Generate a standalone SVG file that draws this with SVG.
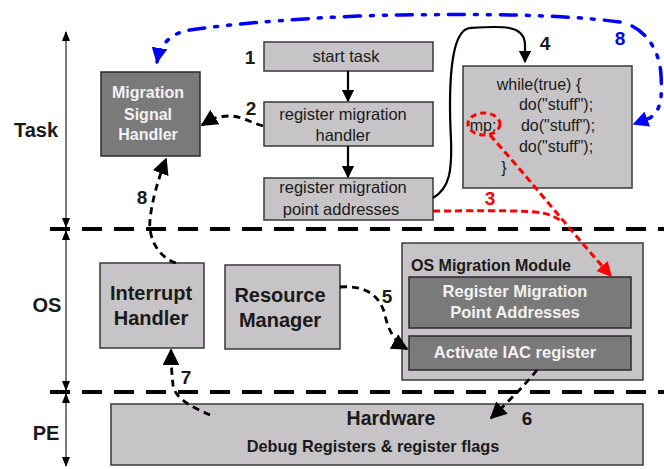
<svg xmlns="http://www.w3.org/2000/svg" width="664" height="469" viewBox="0 0 664 469">
<defs>
<style>
.box{fill:#c6c4c6;stroke:#3a3a3a;stroke-width:1.5}
.dbox{fill:#7b7a7b;stroke:#2a2a2a;stroke-width:1.5}
.t{font-family:"Liberation Sans",Arial,sans-serif;fill:#1a1a1a;text-anchor:middle}
.w{font-family:"Liberation Sans",Arial,sans-serif;fill:#f2f2f2;font-weight:bold;text-anchor:middle}
.b{font-weight:bold}
.sep{stroke:#000;stroke-width:4;stroke-dasharray:20 12;fill:none}
.axis{stroke:#333;stroke-width:1.3;fill:none}
.dk{stroke:#000;stroke-width:2.8;stroke-dasharray:7 5;fill:none}
.sol{stroke:#000;stroke-width:2.2;fill:none}
.red{stroke:#ff0000;stroke-width:3;stroke-dasharray:7 4;fill:none}
.blue{stroke:#0000ff;stroke-width:3.5;stroke-dasharray:16 10 3 10 3 10;stroke-linecap:round;fill:none}
</style>
<marker id="ak" viewBox="0 0 10 10" refX="9" refY="5" markerWidth="5.5" markerHeight="5.5" orient="auto" markerUnits="strokeWidth"><path d="M0,0 L10,5 L0,10 z" fill="#000"/></marker>
<marker id="as" viewBox="0 0 10 10" refX="9" refY="5" markerWidth="6" markerHeight="6" orient="auto" markerUnits="strokeWidth"><path d="M0,0 L10,5 L0,10 z" fill="#000"/></marker>
<marker id="ar" viewBox="0 0 10 10" refX="9" refY="5" markerWidth="5" markerHeight="5" orient="auto" markerUnits="strokeWidth"><path d="M0,0 L10,5 L0,10 z" fill="#ff0000"/></marker>
<marker id="ab" viewBox="0 0 10 10" refX="9" refY="5" markerWidth="4.5" markerHeight="4.5" orient="auto" markerUnits="strokeWidth"><path d="M0,0 L10,5 L0,10 z" fill="#0000ff"/></marker>
<marker id="ax" viewBox="0 0 10 10" refX="9" refY="5" markerWidth="8" markerHeight="8" orient="auto-start-reverse" markerUnits="strokeWidth"><path d="M0,1 L10,5 L0,9 z" fill="#000"/></marker>
</defs>
<rect width="664" height="469" fill="#fff"/>

<g id="layers">
<line class="sep" x1="50" y1="229" x2="664" y2="229"/>
<line class="sep" x1="50" y1="392" x2="664" y2="392"/>
<line class="axis" x1="66" y1="32" x2="66" y2="227" marker-start="url(#ax)" marker-end="url(#ax)"/>
<line class="axis" x1="66" y1="231" x2="66" y2="390" marker-start="url(#ax)" marker-end="url(#ax)"/>
<line class="axis" x1="66" y1="394" x2="66" y2="466" marker-start="url(#ax)" marker-end="url(#ax)"/>
<text class="t b" x="36" y="137" font-size="20">Task</text>
<text class="t b" x="47" y="312" font-size="20">OS</text>
<text class="t b" x="46" y="440" font-size="20">PE</text>
</g>

<g id="msh">
<rect class="dbox" x="101" y="72" width="99" height="84"/>
<text class="w" x="148" y="98" font-size="16">Migration</text>
<text class="w" x="148" y="120" font-size="16">Signal</text>
<text class="w" x="148" y="140" font-size="16">Handler</text>
</g>

<g id="start">
<rect class="box" x="264" y="42" width="169" height="29"/>
<text class="t" x="346" y="62" font-size="16.5">start task</text>
</g>
<g id="regh">
<rect class="box" x="264" y="102" width="169" height="44"/>
<text class="t" x="343" y="120" font-size="16.5">register migration</text>
<text class="t" x="343" y="141" font-size="16.5">handler</text>
</g>
<g id="regp">
<rect class="box" x="264" y="178" width="169" height="42"/>
<text class="t" x="343" y="193" font-size="16.5">register migration</text>
<text class="t" x="341" y="215" font-size="16.5">point addresses</text>
</g>

<g id="loop">
<rect class="box" x="463" y="66" width="169" height="122"/>
<text class="t" x="539" y="90" font-size="16">while(true) {</text>
<text class="t" x="556" y="110" font-size="16">do("stuff");</text>
<text class="t" x="483" y="131" font-size="16">mp:</text>
<text class="t" x="558" y="131" font-size="16">do("stuff");</text>
<text class="t" x="556" y="152" font-size="16">do("stuff");</text>
<text class="t" x="504" y="173" font-size="16">}</text>
</g>

<g id="ih">
<rect class="box" x="100" y="263" width="104" height="85"/>
<text class="t b" x="151" y="300" font-size="20">Interrupt</text>
<text class="t b" x="151" y="325" font-size="20">Handler</text>
</g>
<g id="rm">
<rect class="box" x="225" y="265" width="115" height="84"/>
<text class="t b" x="280" y="302" font-size="20">Resource</text>
<text class="t b" x="280" y="327" font-size="20">Manager</text>
</g>

<g id="osmm">
<rect class="box" x="402" y="243" width="241" height="137"/>
<text class="t b" x="491" y="271" font-size="16">OS Migration Module</text>
<rect class="dbox" x="409" y="277" width="222" height="51"/>
<text class="w" x="515" y="297" font-size="16.5">Register Migration</text>
<text class="w" x="515" y="318" font-size="16.5">Point Addresses</text>
<rect class="dbox" x="409" y="336" width="222" height="34"/>
<text class="w" x="515" y="358" font-size="16.5">Activate IAC register</text>
</g>

<g id="hw">
<rect class="box" x="111" y="404" width="532" height="61"/>
<text class="t b" x="391" y="425" font-size="19.5">Hardware</text>
<text class="t b" x="373" y="452" font-size="16.3">Debug Registers &amp; register flags</text>
</g>

<g id="connectors">
<line class="sol" x1="348" y1="71" x2="348" y2="101" marker-end="url(#ak)"/>
<line class="sol" x1="348" y1="146" x2="348" y2="177" marker-end="url(#ak)"/>
<path class="dk" d="M263,126 C250,122 240,116 230,116 C215,116 210,120 202,125" marker-end="url(#as)"/>
<path class="sol" d="M433,198 C450,188 452,170 451,140 C449,100 448,30 470,28 C500,26 525,24 525,45 L525,62" marker-end="url(#ak)"/>
<path class="dk" d="M176,263 C160,258 148,240 150,220 C152,200 158,180 166,159" marker-end="url(#as)"/>
<path class="dk" d="M340,287 C365,285 380,295 385,315 C388,330 395,342 407,349" marker-end="url(#as)"/>
<path class="dk" d="M210,415 C195,408 175,400 173,385 C172,375 171,365 171,350" marker-end="url(#as)"/>
<path class="dk" d="M537,370 C525,385 510,400 491,418" marker-end="url(#as)"/>
<ellipse cx="484" cy="124" rx="16" ry="11" fill="none" stroke="#ff0000" stroke-width="3" stroke-dasharray="6 4"/>
<path class="red" d="M433,211 C470,211 510,210 535,212 C548,213 555,217 560,220"/>
<path class="red" d="M490,135 C530,180 570,230 611,276" marker-end="url(#ar)"/>
<path class="blue" d="M632,26 C650,35 660,55 661,75 C662,95 662,110 650,118 L634,124" marker-end="url(#ab)"/>
<path class="blue" d="M620,22 C560,14 480,14 400,15 C320,16 230,24 190,30 C170,33 160,45 157,62" marker-end="url(#ab)"/>
<text class="t b" x="250" y="64" font-size="19">1</text>
<text class="t b" x="251" y="115" font-size="19">2</text>
<text class="t b" x="490" y="205" font-size="19" style="fill:#ff0000">3</text>
<text class="t b" x="545" y="50" font-size="19">4</text>
<text class="t b" x="387" y="303" font-size="19">5</text>
<text class="t b" x="527" y="425" font-size="19">6</text>
<text class="t b" x="186" y="384" font-size="19">7</text>
<text class="t b" x="142" y="204" font-size="19">8</text>
<text class="t b" x="620" y="45" font-size="19" style="fill:#0000ff">8</text>
</g>
</svg>
